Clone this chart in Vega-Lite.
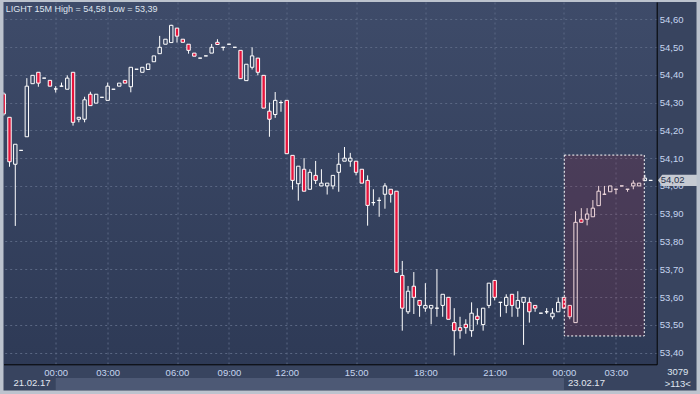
{
"$schema": "https://vega.github.io/schema/vega-lite/v6.json",
"width": 653.2, "height": 362.3,
"autosize": {"type": "none"},
"padding": {"left": 3.5, "top": 2, "right": 43.3, "bottom": 29.7},
"background": "#38445f",
"config": {
  "locale": {"number": {"decimal": ",", "thousands": ".", "grouping": [3], "currency": ["", ""]}},
  "view": {"stroke": null, "fill": {"gradient": "linear", "x1": 0, "y1": 0, "x2": 0, "y2": 1, "stops": [{"offset": 0, "color": "#3e4b69"}, {"offset": 1, "color": "#2e3a56"}]}},
  "font": "Liberation Sans",
  "axis": {"title": null}
},
"title": {"text": "LIGHT 15M High = 54,58 Low = 53,39", "anchor": "start", "frame": "group", "offset": -19, "dx": 2.2, "fontSize": 9, "fontWeight": "normal", "color": "#dfe5ef", "font": "Liberation Sans"},
"datasets": {
"candles": [
{"i":0,"o":54.331,"h":54.338,"l":54.252,"c":54.259},
{"i":1,"o":54.247,"h":54.247,"l":54.069,"c":54.087},
{"i":2,"o":54.078,"h":54.150,"l":53.856,"c":54.150},
{"i":3,"o":54.128,"h":54.128,"l":54.128,"c":54.128},
{"i":4,"o":54.177,"h":54.388,"l":54.177,"c":54.359},
{"i":5,"o":54.368,"h":54.398,"l":54.368,"c":54.398},
{"i":6,"o":54.409,"h":54.409,"l":54.357,"c":54.370},
{"i":7,"o":54.388,"h":54.388,"l":54.388,"c":54.388},
{"i":8,"o":54.380,"h":54.380,"l":54.359,"c":54.359},
{"i":9,"o":54.349,"h":54.359,"l":54.336,"c":54.349},
{"i":10,"o":54.359,"h":54.372,"l":54.359,"c":54.359},
{"i":11,"o":54.348,"h":54.398,"l":54.348,"c":54.388},
{"i":12,"o":54.409,"h":54.409,"l":54.217,"c":54.229},
{"i":13,"o":54.240,"h":54.247,"l":54.229,"c":54.247},
{"i":14,"o":54.240,"h":54.321,"l":54.229,"c":54.310},
{"i":15,"o":54.330,"h":54.339,"l":54.289,"c":54.289},
{"i":16,"o":54.298,"h":54.330,"l":54.298,"c":54.330},
{"i":17,"o":54.319,"h":54.319,"l":54.319,"c":54.319},
{"i":18,"o":54.308,"h":54.372,"l":54.308,"c":54.359},
{"i":19,"o":54.348,"h":54.348,"l":54.348,"c":54.348},
{"i":20,"o":54.359,"h":54.370,"l":54.359,"c":54.370},
{"i":21,"o":54.380,"h":54.380,"l":54.370,"c":54.370},
{"i":22,"o":54.357,"h":54.427,"l":54.337,"c":54.427},
{"i":23,"o":54.420,"h":54.420,"l":54.420,"c":54.420},
{"i":24,"o":54.409,"h":54.427,"l":54.409,"c":54.427},
{"i":25,"o":54.419,"h":54.439,"l":54.419,"c":54.439},
{"i":26,"o":54.447,"h":54.468,"l":54.447,"c":54.468},
{"i":27,"o":54.476,"h":54.540,"l":54.476,"c":54.499},
{"i":28,"o":54.510,"h":54.528,"l":54.510,"c":54.528},
{"i":29,"o":54.516,"h":54.580,"l":54.516,"c":54.578},
{"i":30,"o":54.568,"h":54.568,"l":54.516,"c":54.539},
{"i":31,"o":54.528,"h":54.528,"l":54.517,"c":54.517},
{"i":32,"o":54.510,"h":54.510,"l":54.476,"c":54.488},
{"i":33,"o":54.478,"h":54.478,"l":54.467,"c":54.467},
{"i":34,"o":54.460,"h":54.460,"l":54.460,"c":54.460},
{"i":35,"o":54.468,"h":54.468,"l":54.468,"c":54.468},
{"i":36,"o":54.478,"h":54.511,"l":54.478,"c":54.499},
{"i":37,"o":54.517,"h":54.528,"l":54.509,"c":54.509},
{"i":38,"o":54.499,"h":54.499,"l":54.487,"c":54.499},
{"i":39,"o":54.510,"h":54.510,"l":54.510,"c":54.510},
{"i":40,"o":54.499,"h":54.499,"l":54.499,"c":54.499},
{"i":41,"o":54.488,"h":54.488,"l":54.386,"c":54.386},
{"i":42,"o":54.379,"h":54.438,"l":54.379,"c":54.438},
{"i":43,"o":54.427,"h":54.499,"l":54.419,"c":54.468},
{"i":44,"o":54.460,"h":54.460,"l":54.398,"c":54.409},
{"i":45,"o":54.398,"h":54.398,"l":54.280,"c":54.280},
{"i":46,"o":54.269,"h":54.300,"l":54.177,"c":54.240},
{"i":47,"o":54.257,"h":54.338,"l":54.245,"c":54.308},
{"i":48,"o":54.300,"h":54.308,"l":54.267,"c":54.300},
{"i":49,"o":54.308,"h":54.308,"l":54.116,"c":54.116},
{"i":50,"o":54.110,"h":54.110,"l":53.987,"c":54.020},
{"i":51,"o":54.008,"h":54.071,"l":53.947,"c":54.071},
{"i":52,"o":54.060,"h":54.100,"l":53.981,"c":53.981},
{"i":53,"o":53.988,"h":54.060,"l":53.988,"c":54.049},
{"i":54,"o":54.038,"h":54.090,"l":54.007,"c":54.020},
{"i":55,"o":54.000,"h":54.060,"l":54.000,"c":54.010},
{"i":56,"o":54.000,"h":54.010,"l":53.969,"c":54.010},
{"i":57,"o":54.000,"h":54.038,"l":53.988,"c":54.038},
{"i":58,"o":54.049,"h":54.119,"l":53.979,"c":54.078},
{"i":59,"o":54.089,"h":54.140,"l":54.089,"c":54.100},
{"i":60,"o":54.089,"h":54.119,"l":54.069,"c":54.100},
{"i":61,"o":54.089,"h":54.089,"l":54.038,"c":54.049},
{"i":62,"o":54.060,"h":54.060,"l":54.010,"c":54.010},
{"i":63,"o":54.020,"h":54.038,"l":53.857,"c":53.930},
{"i":64,"o":53.940,"h":53.988,"l":53.929,"c":53.940},
{"i":65,"o":53.948,"h":53.959,"l":53.889,"c":53.948},
{"i":66,"o":53.970,"h":54.010,"l":53.918,"c":54.000},
{"i":67,"o":53.988,"h":53.988,"l":53.940,"c":53.970},
{"i":68,"o":53.981,"h":53.981,"l":53.689,"c":53.689},
{"i":69,"o":53.678,"h":53.730,"l":53.479,"c":53.560},
{"i":70,"o":53.547,"h":53.640,"l":53.539,"c":53.621},
{"i":71,"o":53.639,"h":53.690,"l":53.539,"c":53.599},
{"i":72,"o":53.588,"h":53.588,"l":53.529,"c":53.570},
{"i":73,"o":53.560,"h":53.650,"l":53.547,"c":53.570},
{"i":74,"o":53.560,"h":53.570,"l":53.502,"c":53.570},
{"i":75,"o":53.560,"h":53.701,"l":53.529,"c":53.560},
{"i":76,"o":53.570,"h":53.610,"l":53.529,"c":53.610},
{"i":77,"o":53.599,"h":53.599,"l":53.520,"c":53.520},
{"i":78,"o":53.508,"h":53.560,"l":53.390,"c":53.479},
{"i":79,"o":53.490,"h":53.529,"l":53.450,"c":53.479},
{"i":80,"o":53.502,"h":53.520,"l":53.468,"c":53.490},
{"i":81,"o":53.479,"h":53.581,"l":53.457,"c":53.542},
{"i":82,"o":53.531,"h":53.560,"l":53.501,"c":53.519},
{"i":83,"o":53.501,"h":53.560,"l":53.479,"c":53.560},
{"i":84,"o":53.570,"h":53.650,"l":53.560,"c":53.650},
{"i":85,"o":53.660,"h":53.660,"l":53.588,"c":53.599},
{"i":86,"o":53.581,"h":53.581,"l":53.529,"c":53.581},
{"i":87,"o":53.570,"h":53.610,"l":53.542,"c":53.599},
{"i":88,"o":53.610,"h":53.610,"l":53.529,"c":53.570},
{"i":89,"o":53.560,"h":53.621,"l":53.529,"c":53.588},
{"i":90,"o":53.581,"h":53.599,"l":53.428,"c":53.599},
{"i":91,"o":53.581,"h":53.599,"l":53.508,"c":53.547},
{"i":92,"o":53.570,"h":53.570,"l":53.547,"c":53.560},
{"i":93,"o":53.542,"h":53.542,"l":53.542,"c":53.542},
{"i":94,"o":53.547,"h":53.560,"l":53.539,"c":53.547},
{"i":95,"o":53.529,"h":53.560,"l":53.520,"c":53.542},
{"i":96,"o":53.547,"h":53.599,"l":53.547,"c":53.581},
{"i":97,"o":53.599,"h":53.599,"l":53.560,"c":53.560},
{"i":98,"o":53.570,"h":53.570,"l":53.520,"c":53.529},
{"i":99,"o":53.508,"h":53.909,"l":53.508,"c":53.869},
{"i":100,"o":53.880,"h":53.920,"l":53.869,"c":53.869},
{"i":101,"o":53.880,"h":53.920,"l":53.858,"c":53.899},
{"i":102,"o":53.889,"h":53.949,"l":53.889,"c":53.920},
{"i":103,"o":53.929,"h":54.000,"l":53.929,"c":53.981},
{"i":104,"o":53.970,"h":54.000,"l":53.970,"c":53.970},
{"i":105,"o":53.979,"h":54.000,"l":53.979,"c":54.000},
{"i":106,"o":53.988,"h":53.988,"l":53.970,"c":53.988},
{"i":107,"o":54.000,"h":54.000,"l":54.000,"c":54.000},
{"i":108,"o":53.988,"h":53.988,"l":53.979,"c":53.988},
{"i":109,"o":54.000,"h":54.020,"l":53.988,"c":54.010},
{"i":110,"o":54.000,"h":54.010,"l":54.000,"c":54.010},
{"i":111,"o":54.019,"h":54.040,"l":54.019,"c":54.028},
{"i":112,"o":54.020,"h":54.020,"l":54.020,"c":54.020}
],
"box": [{"t0": 97.05, "t1": 110.9, "lo": 53.46, "hi": 54.111}],
"day": [{"start": 9, "end": 97, "date": "22.02.17"}],
"last": [{"price": 54.02}],
"bars": [{"total": "3079", "visible": ">113<"}],
"frame": [{}]
},
"resolve": {"axis": {"x": "independent", "y": "independent"}},
"layer": [
{
  "data": {"name": "day"},
  "mark": {"type": "rect", "fill": "#4d5975", "clip": false},
  "encoding": {
    "x": {"field": "start", "type": "quantitative", "scale": {"domain": [-0.04, 113.05], "nice": false, "zero": false, "padding": 0},
      "axis": {"orient": "bottom", "values": [1.6, 9.6, 97.6], "labelExpr": "datum.value < 5 ? '21.02.17' : datum.value < 50 ? '22.02.17' : '23.02.17'", "labelAlign": "left", "labelPadding": 13, "labelFontSize": 9.5, "labelColor": "#e2e7f0", "ticks": false, "domain": false, "grid": false, "labelFont": "Liberation Sans"}},
    "x2": {"field": "end"},
    "y": {"datum": 53.3087, "type": "quantitative", "scale": {"domain": [53.358, 54.662], "nice": false, "zero": false, "padding": 0}, "axis": null},
    "y2": {"datum": 53.2655}
  }
},
{
  "data": {"name": "candles"},
  "transform": [{"filter": "datum.c >= datum.o"}],
  "mark": {"type": "rule", "color": "#ffffff", "strokeWidth": 1, "clip": true},
  "encoding": {
    "x": {"field": "i", "type": "quantitative", "axis": null},
    "y": {"field": "h", "type": "quantitative", "axis": null},
    "y2": {"field": "c"}
  }
},
{
  "data": {"name": "candles"},
  "transform": [{"filter": "datum.c >= datum.o"}],
  "mark": {"type": "rule", "color": "#ffffff", "strokeWidth": 1, "clip": true},
  "encoding": {
    "x": {"field": "i", "type": "quantitative", "axis": null},
    "y": {"field": "o", "type": "quantitative", "axis": null},
    "y2": {"field": "l"}
  }
},
{
  "data": {"name": "candles"},
  "transform": [{"filter": "datum.c < datum.o"}],
  "mark": {"type": "rule", "color": "#ffffff", "strokeWidth": 1, "clip": true},
  "encoding": {
    "x": {"field": "i", "type": "quantitative", "axis": null},
    "y": {"field": "h", "type": "quantitative", "axis": null},
    "y2": {"field": "o"}
  }
},
{
  "data": {"name": "candles"},
  "transform": [{"filter": "datum.c < datum.o"}],
  "mark": {"type": "rule", "color": "#ffffff", "strokeWidth": 1, "clip": true},
  "encoding": {
    "x": {"field": "i", "type": "quantitative", "axis": null},
    "y": {"field": "c", "type": "quantitative", "axis": null},
    "y2": {"field": "l"}
  }
},
{
  "data": {"name": "candles"},
  "transform": [{"filter": "datum.c >= datum.o"}],
  "mark": {"type": "bar", "width": 3.4, "fill": "transparent", "stroke": "#ffffff", "strokeWidth": 1, "clip": true},
  "encoding": {
    "x": {"field": "i", "type": "quantitative", "axis": null},
    "y": {"field": "o", "type": "quantitative", "axis": null},
    "y2": {"field": "c"}
  }
},
{
  "data": {"name": "candles"},
  "transform": [{"filter": "datum.c < datum.o"}],
  "mark": {"type": "bar", "width": 3.4, "fill": "#e6143c", "stroke": "#ffffff", "strokeWidth": 1, "clip": true},
  "encoding": {
    "x": {"field": "i", "type": "quantitative",
      "axis": {"orient": "bottom", "values": [9, 18, 30, 39, 49, 61, 73, 85, 97, 106],
        "labelExpr": "datum.value == 9 || datum.value == 97 ? '00:00' : datum.value == 18 || datum.value == 106 ? '03:00' : datum.value == 30 ? '06:00' : datum.value == 39 ? '09:00' : datum.value == 49 ? '12:00' : datum.value == 61 ? '15:00' : datum.value == 73 ? '18:00' : '21:00'",
        "labelFontSize": 9.5, "labelColor": "#c6d5ef", "labelFont": "Liberation Sans", "labelPadding": 3, "ticks": false,
        "domain": true, "domainColor": "#000000", "domainWidth": 1,
        "grid": true, "gridColor": "#5a6783", "gridDash": [2, 3], "gridWidth": 1}},
    "y": {"field": "o", "type": "quantitative",
      "axis": {"orient": "right", "values": [53.4, 53.5, 53.6, 53.7, 53.8, 53.9, 54.0, 54.1, 54.2, 54.3, 54.4, 54.5, 54.6],
        "labelExpr": "replace(format(datum.value, '.2f'), '.', ',')",
        "labelFontSize": 9.5, "labelColor": "#c6d5ef", "labelFont": "Liberation Sans", "labelPadding": 2.5, "ticks": false,
        "domain": true, "domainColor": "#000000", "domainWidth": 1,
        "grid": true, "gridColor": "#5a6783", "gridDash": [2, 3], "gridWidth": 1}},
    "y2": {"field": "c"}
  }
},
{
  "data": {"name": "box"},
  "mark": {"type": "rect", "fill": "#aa2036", "fillOpacity": 0.17, "stroke": "#ffffff", "strokeWidth": 1, "strokeDash": [2, 2]},
  "encoding": {
    "x": {"field": "t0", "type": "quantitative", "axis": null},
    "x2": {"field": "t1"},
    "y": {"field": "lo", "type": "quantitative", "axis": null},
    "y2": {"field": "hi"}
  }
},
{
  "data": {"name": "last"},
  "mark": {"type": "point", "shape": "M0,0L0.2,-0.27H2V0.27H0.2Z", "size": 1764, "filled": true, "fill": "#c6cad2", "stroke": null, "opacity": 1, "clip": false},
  "encoding": {
    "x": {"datum": 113.27, "type": "quantitative", "axis": null},
    "y": {"field": "price", "type": "quantitative", "axis": null}
  }
},
{
  "data": {"name": "last"},
  "mark": {"type": "text", "align": "left", "baseline": "middle", "dx": 4, "fontSize": 9.5, "font": "Liberation Sans", "color": "#26324c", "clip": false},
  "encoding": {
    "x": {"datum": 113.05, "type": "quantitative", "axis": null},
    "y": {"field": "price", "type": "quantitative", "axis": null},
    "text": {"field": "price", "type": "quantitative", "format": ".2f"}
  }
},
{
  "data": {"name": "bars"},
  "mark": {"type": "text", "align": "center", "baseline": "middle", "fontSize": 9.5, "font": "Liberation Sans", "color": "#dfe5ef", "clip": false},
  "encoding": {
    "x": {"datum": 116.7, "type": "quantitative", "axis": null},
    "y": {"datum": 53.331, "type": "quantitative", "axis": null},
    "text": {"field": "total"}
  }
},
{
  "data": {"name": "bars"},
  "mark": {"type": "text", "align": "center", "baseline": "middle", "fontSize": 9.5, "font": "Liberation Sans", "color": "#dfe5ef", "clip": false},
  "encoding": {
    "x": {"datum": 116.7, "type": "quantitative", "axis": null},
    "y": {"datum": 53.287, "type": "quantitative", "axis": null},
    "text": {"field": "visible"}
  }
},
{
  "data": {"name": "frame"},
  "mark": {"type": "rect", "fill": null, "fillOpacity": 0, "stroke": "#bcc3ce", "strokeWidth": 7, "clip": false},
  "encoding": {
    "x": {"datum": -0.646, "type": "quantitative", "axis": null},
    "x2": {"datum": 120.55},
    "y": {"datum": 54.6746, "type": "quantitative", "axis": null},
    "y2": {"datum": 53.2511}
  }
}
]
}
